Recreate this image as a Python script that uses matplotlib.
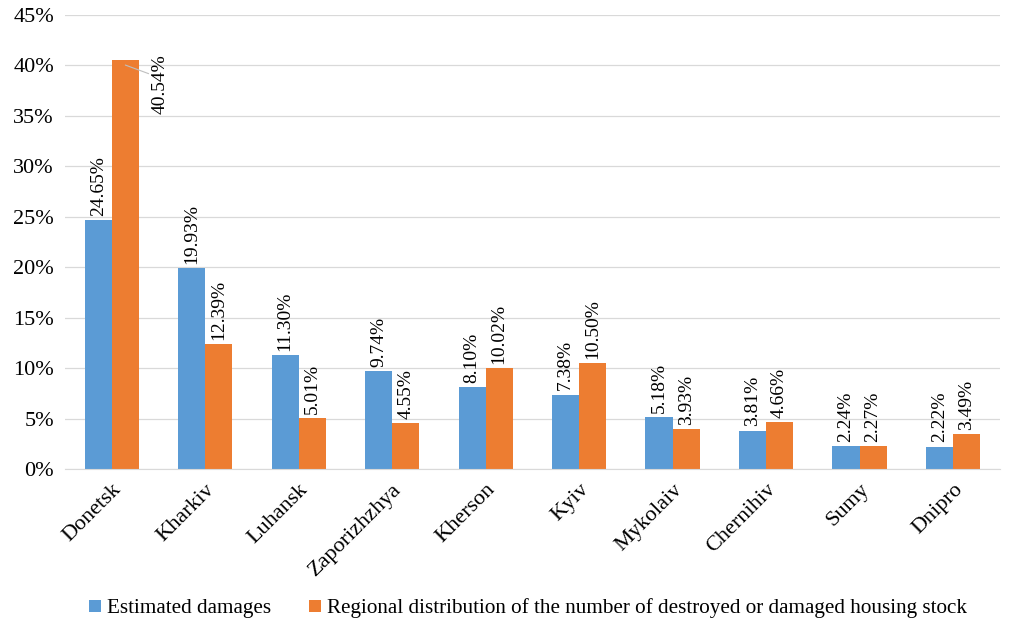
import matplotlib
matplotlib.use("Agg")
import matplotlib.pyplot as plt
import numpy as np

regions = ["Donetsk", "Kharkiv", "Luhansk", "Zaporizhzhya", "Kherson",
           "Kyiv", "Mykolaiv", "Chernihiv", "Sumy", "Dnipro"]
damages = [24.65, 19.93, 11.30, 9.74, 8.10, 7.38, 5.18, 3.81, 2.24, 2.22]
housing = [40.54, 12.39, 5.01, 4.55, 10.02, 10.50, 3.93, 4.66, 2.27, 3.49]

BLUE = "#5B9BD5"
ORANGE = "#ED7D31"

plt.rcParams["font.family"] = ["Liberation Serif", "DejaVu Serif"]

fig = plt.figure(figsize=(10.16, 6.25), dpi=100)
ax = fig.add_axes([0.064, 0.2496, 0.92, 0.7264])

x = np.arange(len(regions))
w = 0.29
ax.bar(x - w / 2, damages, w, color=BLUE, label="Estimated damages", zorder=2)
ax.bar(x + w / 2, housing, w, color=ORANGE,
       label="Regional distribution of the number of destroyed or damaged housing stock",
       zorder=2)

LBL = 14
for xi, v in zip(x - w / 2, damages):
    ax.annotate(f"{v:.2f}%", (xi, v), xytext=(0, 3), textcoords="offset points",
                rotation=90, ha="center", va="bottom", fontsize=LBL)
for i, (xi, v) in enumerate(zip(x + w / 2, housing)):
    if i == 0:
        # label doesn't fit above the tallest bar; place it beside with a leader line
        ax.annotate(f"{v:.2f}%", (xi, v - 0.5), xytext=(xi + 0.37, v + 0.6),
                    rotation=90, ha="center", va="top", fontsize=LBL,
                    arrowprops=dict(arrowstyle="-", color="#BFBFBF", lw=0.8,
                                    shrinkA=0, shrinkB=0, relpos=(0.5, 0.6)))
    else:
        ax.annotate(f"{v:.2f}%", (xi, v), xytext=(0, 3), textcoords="offset points",
                    rotation=90, ha="center", va="bottom", fontsize=LBL)

ax.set_xlim(-0.5, len(regions) - 0.5)
ax.set_ylim(0, 45)
ax.set_yticks(np.arange(0, 46, 5))
ax.set_yticklabels([f"{t}%" for t in range(0, 46, 5)], fontsize=16)
ax.set_xticks(x)
ax.set_xticklabels(regions, rotation=45, ha="right", rotation_mode="anchor", fontsize=16)
ax.tick_params(axis="both", length=0, pad=8)
ax.grid(axis="y", color="#D9D9D9", lw=0.9, zorder=0)
for s in ["top", "right", "left"]:
    ax.spines[s].set_visible(False)
ax.spines["bottom"].set_color("#D9D9D9")

fig.legend(loc="lower center", bbox_to_anchor=(0.52, -0.02), ncol=2, frameon=False,
           fontsize=15.2, handlelength=0.55, handleheight=0.55, handletextpad=0.3,
           columnspacing=1.8)

fig.savefig("out.png", dpi=100)
